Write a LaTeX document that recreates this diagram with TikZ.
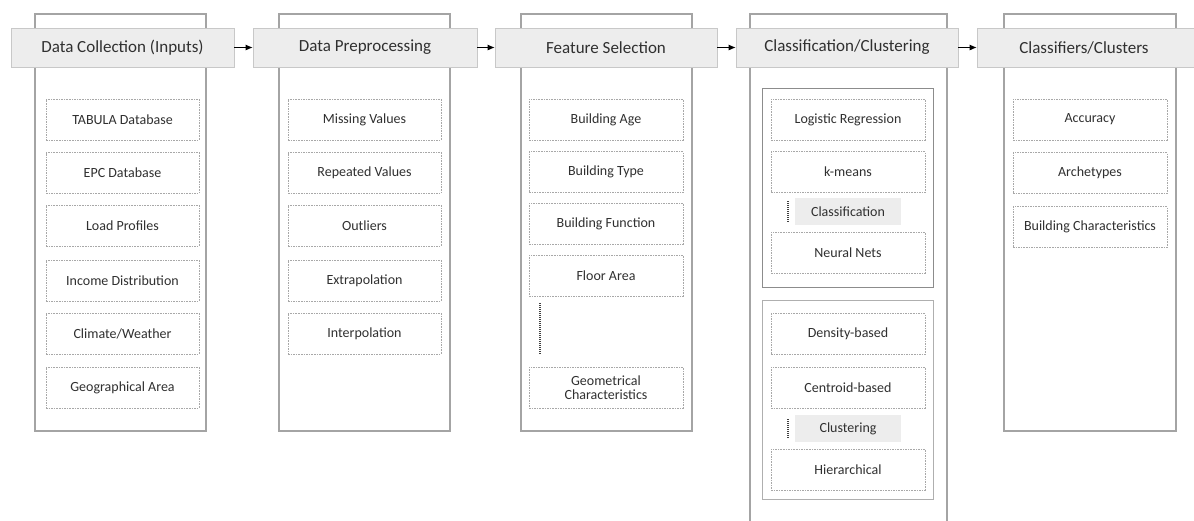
\documentclass[tikz,border=0pt]{standalone}
\usepackage{fontspec}
\setmainfont{Carlito}
\usetikzlibrary{arrows.meta}
\definecolor{txt}{HTML}{303030}
\definecolor{outerc}{HTML}{A4A4A4}
\definecolor{headfill}{HTML}{EDEDED}
\definecolor{headline}{HTML}{C8C8C8}
\definecolor{itemline}{HTML}{A8A8A8}
\definecolor{innerc}{HTML}{8C8C8C}
\tikzset{
  outerbox/.style={draw=outerc, line width=1.1pt, fill=white},
  innerbox/.style={draw=innerc, line width=1pt},
  header/.style={draw=headline, fill=headfill, line width=0.6pt, minimum height=39pt, inner sep=0pt,
     font=\fontsize{17}{19}\selectfont, text=txt},
  item/.style={draw=itemline, dash pattern=on 1.6pt off 1pt, line width=0.7pt, minimum width=153pt,
     minimum height=41pt, inner sep=0pt, align=center, font=\fontsize{14}{16}\selectfont, text=txt},
  tag/.style={fill=headfill, minimum width=106pt, minimum height=27pt, inner sep=0pt,
     font=\fontsize{14}{16}\selectfont, text=txt},
  dotline/.style={draw=black!75, line width=1.6pt, dash pattern=on 1pt off 1pt},
  flow/.style={-{Latex[length=7pt,width=6pt]}, line width=0.9pt, black}
}
\begin{document}
\begin{tikzpicture}[x=1pt,y=-1pt]
\useasboundingbox (0,0) rectangle (1194,520);
\fill[white] (0,0) rectangle (1194,520);
% outer boxes
\draw[outerbox] (35,14) rectangle (206,431);
\draw[outerbox] (279,14) rectangle (450,431);
\draw[outerbox] (521,14) rectangle (692,431);
\begin{scope}
\clip (0,0) rectangle (1194,520);
\draw[outerbox] (750,14) rectangle (947,530);
\end{scope}
\draw[outerbox] (1004,14) rectangle (1176,431);
% headers
\node[header, minimum width=223pt] (h1) at (122.5,47.5) {Data Collection (Inputs)};
\node[header, minimum width=224pt] (h2) at (365,47.5) {Data Preprocessing};
\node[header, minimum width=222pt] (h3) at (606,47.5) {Feature Selection};
\node[header, minimum width=222pt] (h4) at (847,47.5) {Classification/Clustering};
\node[header, minimum width=220pt] (h5) at (1087,47.5) {\hspace*{-6pt}Classifiers/Clusters};
\draw[flow] (h1.east) -- (h2.west);
\draw[flow] (h2.east) -- (h3.west);
\draw[flow] (h3.east) -- (h4.west);
\draw[flow] (h4.east) -- (h5.west);
% column 1
\node[item] (a1) at (122.5,119.5) {TABULA Database};
\node[item] (a2) at (122.5,173) {EPC Database};
\node[item] (a3) at (122.5,225.5) {Load Profiles};
\node[item] (a4) at (122.5,280.5) {Income Distribution};
\node[item] (a5) at (122.5,333.5) {Climate/Weather};
\node[item] (a6) at (122.5,387.5) {Geographical Area};
% column 2
\node[item] (b1) at (364.5,119.5) {Missing Values};
\node[item] (b2) at (364.5,173) {Repeated Values};
\node[item] (b3) at (364.5,225.5) {Outliers};
\node[item] (b4) at (364.5,280.5) {Extrapolation};
\node[item] (b5) at (364.5,333.5) {Interpolation};
% column 3
\node[item, minimum width=154pt] (c1) at (606,119.5) {Building Age};
\node[item, minimum width=154pt] (c2) at (606,172) {Building Type};
\node[item, minimum width=154pt] (c3) at (606,223.5) {Building Function};
\node[item, minimum width=154pt] (c4) at (606,275.5) {Floor Area};
\coordinate (cd1) at (540,303);
\coordinate (cd2) at (540,355);
\draw[dotline] (cd1) -- (cd2);
\node[item, minimum width=154pt] (c5) at (606,387.5) {Geometrical\\[-2pt]Characteristics};
% column 4
\draw[innerbox] (762,88) rectangle (933,287);
\node[item, minimum width=154pt] (d1) at (848,119.5) {Logistic Regression};
\node[item, minimum width=154pt] (d2) at (848,172) {k-means};
\node[tag] (d3) at (848,211.5) {Classification};
\coordinate (dd1) at (788,201);
\coordinate (dd2) at (788,222);
\draw[dotline] (dd1) -- (dd2);
\node[item, minimum width=154pt] (d4) at (848,252.5) {Neural Nets};
\draw[innerbox, draw=innerc!70] (762,300) rectangle (933,499);
\node[item, minimum width=154pt] (e1) at (848,334) {Density-based};
\node[item, minimum width=154pt] (e2) at (848,387.5) {Centroid-based};
\node[tag] (e3) at (848,428.5) {Clustering};
\coordinate (ed1) at (788,419);
\coordinate (ed2) at (788,439);
\draw[dotline] (ed1) -- (ed2);
\node[item, minimum width=154pt] (e4) at (848,469.5) {Hierarchical};
% column 5
\node[item, minimum width=154pt] (f1) at (1090,119.5) {Accuracy};
\node[item, minimum width=154pt] (f2) at (1090,173) {Archetypes};
\node[item, minimum width=154pt] (f3) at (1090,227) {Building Characteristics};
\end{tikzpicture}
\end{document}
